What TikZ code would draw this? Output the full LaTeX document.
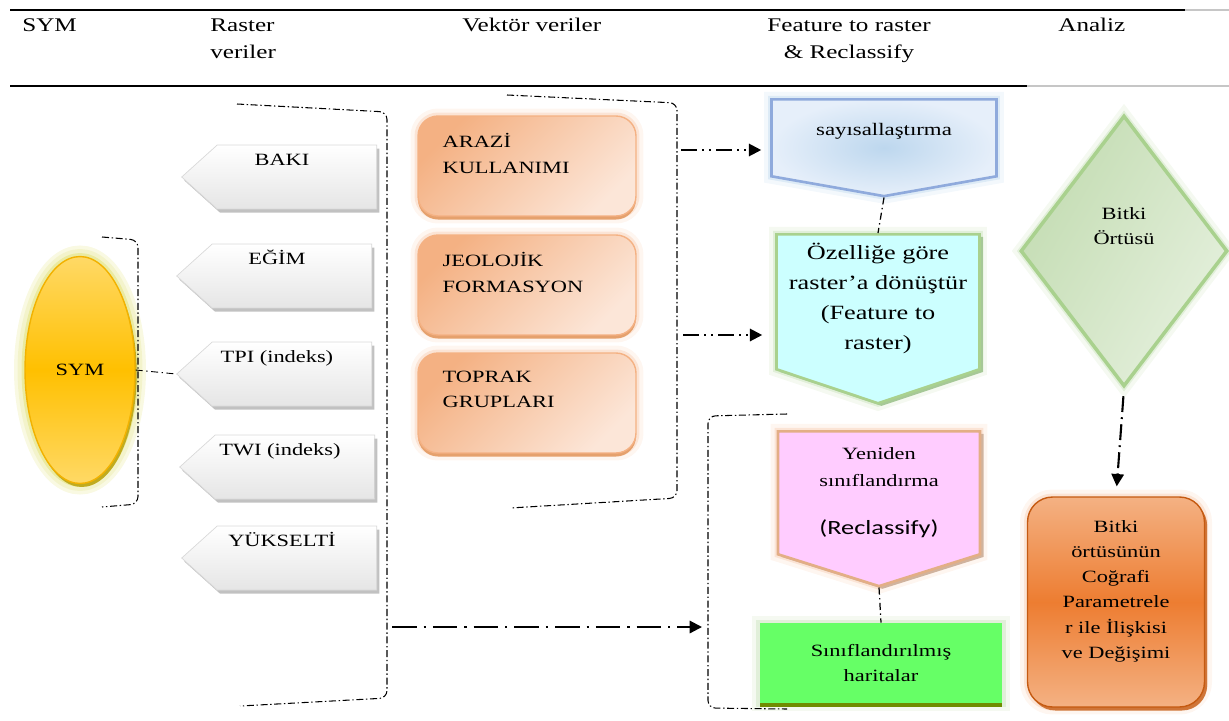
\documentclass[tikz,border=0pt]{standalone}
\usepackage{fontspec}
\setmainfont{Liberation Serif}[FakeStretch=1.3]
\newfontfamily\calibfont{Carlito}[FakeStretch=1.3]
\usetikzlibrary{shapes.geometric, shapes.symbols, arrows.meta, positioning, shadows}

\definecolor{symgold}{HTML}{FFC000}
\definecolor{symlight}{HTML}{FFD966}
\definecolor{symedge}{HTML}{F2B200}
\definecolor{symhalo}{HTML}{DCDC60}
\definecolor{symshadow}{HTML}{B59B00}
\definecolor{vecdark}{HTML}{F4B183}
\definecolor{veclight}{HTML}{FCE6D8}
\definecolor{vecedge}{HTML}{E39A63}
\definecolor{orangehalo}{HTML}{F8CBAD}
\definecolor{sayiin}{HTML}{BDD7EE}
\definecolor{sayiout}{HTML}{E6EFFA}
\definecolor{sayiedge}{HTML}{8FAADC}
\definecolor{ozelfill}{HTML}{CCFFFF}
\definecolor{greenedge}{HTML}{A9D18E}
\definecolor{greenhalo}{HTML}{C5E0B4}
\definecolor{greenshadow}{HTML}{7FAF6C}
\definecolor{yenifill}{HTML}{FFCCFF}
\definecolor{yeniedge}{HTML}{E3AE86}
\definecolor{yenishadow}{HTML}{B4937A}
\definecolor{siniffill}{HTML}{66FF66}
\definecolor{sinifshadow}{HTML}{6F8C00}
\definecolor{bitkiin}{HTML}{E5F0DD}
\definecolor{bitkiout}{HTML}{C3DCB2}
\definecolor{degmid}{HTML}{ED7D31}
\definecolor{degedge}{HTML}{C55A11}

\begin{document}
\begin{tikzpicture}[
    x=0.02cm, y=-0.02cm,
    font=\fontsize{9.8}{14.4}\selectfont,
    halo/.style={preaction={draw=#1, line width=3mm, opacity=.18},
                 preaction={draw=#1, line width=1.4mm, opacity=.4}},
    hdr/.style={anchor=north, inner sep=0pt, font=\fontsize{11}{15.4}\selectfont},
    bracket/.style={line width=0.6pt, rounded corners=1.5mm,
                    dash pattern=on 4pt off 1.5pt on 0.8pt off 1.5pt},
    link/.style={line width=0.7pt, dash pattern=on 4pt off 2pt on 0.8pt off 2pt},
    okline/.style={line width=1.2pt, -{Triangle[length=7pt,width=7pt]}},
    symnode/.style={ellipse, minimum width=22mm, minimum height=45.4mm, inner sep=0pt,
        preaction={draw=symhalo, line width=4.4mm, opacity=.18},
        halo=symhalo, drop shadow={shadow xshift=1pt, shadow yshift=-2pt, fill=symshadow, opacity=.8},
        draw=symedge, line width=0.8pt,
        top color=symlight, bottom color=symlight, middle color=symgold},
    rasterok/.style={signal, signal to=west, signal pointer angle=84, anchor=east,
        minimum width=39mm, minimum height=12.8mm, inner sep=0pt,
        drop shadow={shadow xshift=1.5pt, shadow yshift=-2pt, fill=gray!60, opacity=.8},
        top color=white, bottom color=gray!20, draw=gray!30, line width=0.4pt,
        text height=2.4mm, text depth=7.2mm, execute at end node={\kern6mm}},
    vecbox/.style={rectangle, rounded corners=4mm, minimum width=43.6mm, minimum height=20mm,
        halo=orangehalo, drop shadow={shadow xshift=0pt, shadow yshift=-2pt, fill=vecedge, opacity=.9},
        top color=vecdark, bottom color=veclight, shading angle=45, draw=vecdark, line width=0.8pt},
    vectxt/.style={anchor=north west, align=left, inner sep=0pt, xshift=5mm, yshift=-3.6mm,
        font=\fontsize{9.8}{14.4}\selectfont},
    midtxt/.style={anchor=north, align=center, inner sep=0pt, font=\fontsize{9.8}{14.4}\selectfont},
    sayisig/.style={signal, signal to=south, signal pointer angle=160, anchor=north,
        minimum width=45mm, minimum height=15.4mm, inner sep=0pt, halo=sayiin,
        inner color=sayiin, outer color=sayiout, draw=sayiedge, line width=1.5pt},
    ozelsig/.style={signal, signal to=south, signal pointer angle=143, anchor=north,
        minimum width=40.6mm, minimum height=27mm, inner sep=0pt, halo=greenhalo,
        drop shadow={shadow xshift=2pt, shadow yshift=-1.5pt, fill=greenshadow, opacity=.6},
        fill=ozelfill, draw=greenedge, line width=1.5pt},
    yenisig/.style={signal, signal to=south, signal pointer angle=145, anchor=north,
        minimum width=40.4mm, minimum height=24.6mm, inner sep=0pt, halo=orangehalo,
        drop shadow={shadow xshift=2pt, shadow yshift=-1.5pt, fill=yenishadow, opacity=.6},
        fill=yenifill, draw=yeniedge, line width=1.5pt},
    sinifbox/.style={rectangle, minimum width=48.6mm, minimum height=16mm, align=center,
        halo=greenhalo, drop shadow={shadow xshift=0pt, shadow yshift=-2.5pt, fill=sinifshadow, opacity=1},
        fill=siniffill},
    bitkidia/.style={diamond, minimum width=41.4mm, minimum height=54.2mm, inner sep=0pt, align=center,
        halo=greenhalo, top color=bitkiout, bottom color=bitkiin, shading angle=60,
        draw=greenedge, line width=2pt},
    degbox/.style={rectangle, rounded corners=5mm, minimum width=35.4mm, minimum height=42mm,
        inner sep=0pt, align=center,
        halo=orangehalo, drop shadow={shadow xshift=1.5pt, shadow yshift=-2pt, fill=degedge, opacity=.8},
        top color=vecdark, bottom color=vecdark, middle color=degmid, draw=degedge, line width=0.8pt}
]
\useasboundingbox (0,0) rectangle (1229,720);

% header
\draw[line width=1.3pt] (10,10) -- (1185,10);
\draw[gray!45, line width=0.6pt] (1185,10) -- (1229,10);
\draw[line width=1.3pt] (10,86) -- (1027,86);
\draw[gray!45, line width=0.6pt] (1027,86) -- (1229,86);
\node[hdr, anchor=north west] (hSym) at (22,18) {SYM};
\node[hdr, anchor=north west, align=left] (hRaster) at (210,18) {Raster\\veriler};
\node[hdr, anchor=north west] (hVektor) at (462,18) {Vektör veriler};
\node[hdr, align=center] (hFeature) at (849,18) {Feature to raster\\\& Reclassify};
\node[hdr, anchor=north west] (hAnaliz) at (1058,18) {Analiz};

% SYM and raster data
\node[symnode] (sym) at (80,370) {SYM};
\node[rasterok] (baki) at (377,177) {BAKI};
\node[rasterok] (egim) at (372,276) {EĞİM};
\node[rasterok] (tpi) at (372,374) {TPI (indeks)};
\node[rasterok] (twi) at (375,467) {TWI (indeks)};
\node[rasterok] (yukselti) at (377,558) {YÜKSELTİ};

% vector data
\node[vecbox, label={[vectxt]north west:{ARAZİ\\KULLANIMI}}] (arazi) at (527,166) {};
\node[vecbox, label={[vectxt]north west:{JEOLOJİK\\FORMASYON}}] (jeoloji) at (527,285) {};
\node[vecbox, label={[vectxt]north west:{TOPRAK\\GRUPLARI}}] (toprak) at (527,403) {};

% feature to raster & reclassify
\node[sayisig, label={[midtxt, yshift=-5mm, font=\fontsize{10}{14}\selectfont]north:sayısallaştırma}] (sayi) at (884,98) {};
\node[ozelsig, label={[midtxt, yshift=-2mm, font=\fontsize{11.5}{17}\selectfont]north:{Özelliğe göre\\raster’a dönüştür\\(Feature to\\raster)}}] (ozel) at (878,233) {};
\node[yenisig, label={[midtxt, yshift=-3.4mm, font=\fontsize{9.8}{15.4}\selectfont]north:{Yeniden\\sınıflandırma\\[12pt]{\calibfont\fontsize{11.5}{14}\selectfont(Reclassify)}}}] (yeni) at (879,430) {};
\node[sinifbox] (sinif) at (881,663) {Sınıflandırılmış\\haritalar};

% analysis
\node[bitkidia] (bitki) at (1124,251) {Bitki\\Örtüsü\\\mbox{}\\\mbox{}};
\node[degbox] (degisim) at (1116,602) {Bitki\\örtüsünün\\Coğrafi\\Parametrele\\r ile İlişkisi\\ve Değişimi\\\mbox{}};

% brackets
\draw[bracket] (102,237) -- (138,240) -- (138,504) -- (102,507);
\draw[bracket] (237,104) -- (387,112) -- (387,698) -- (240,706);
\draw[bracket] (507,95) -- (677,103) -- (677,498) -- (510,508);
\draw[bracket] (787,414) -- (708,416) -- (708,708) -- (787,709);

% connectors
\coordinate (vecOutA) at (681,150);
\coordinate (vecOutB) at (683,335);
\coordinate (rastOut) at (392,627);
\coordinate (sinifIn) at (702,627);
\draw[link, line width=0.5pt] (sym.east) -- (tpi.west);
\draw[okline, shorten >=1.8mm, dash pattern=on 9pt off 3pt on 1pt off 3pt on 1pt off 3pt] (vecOutA) -- (vecOutA -| sayi.west);
\draw[okline, shorten >=2.6mm, dash pattern=on 9pt off 3pt on 1pt off 3pt on 1pt off 3pt] (vecOutB) -- (vecOutB -| ozel.west);
\draw[okline, dash pattern=on 14pt off 4pt on 1.2pt off 4pt] (rastOut) -- (sinifIn);
\draw[link] (sayi.south) -- (ozel.north);
\draw[link] (yeni.south) -- (sinif.north);
\draw[okline, shorten <=1.6mm, shorten >=2mm, dash pattern=on 9pt off 3pt on 1pt off 3pt] (bitki.south) -- (degisim.north);

\end{tikzpicture}
\end{document}
